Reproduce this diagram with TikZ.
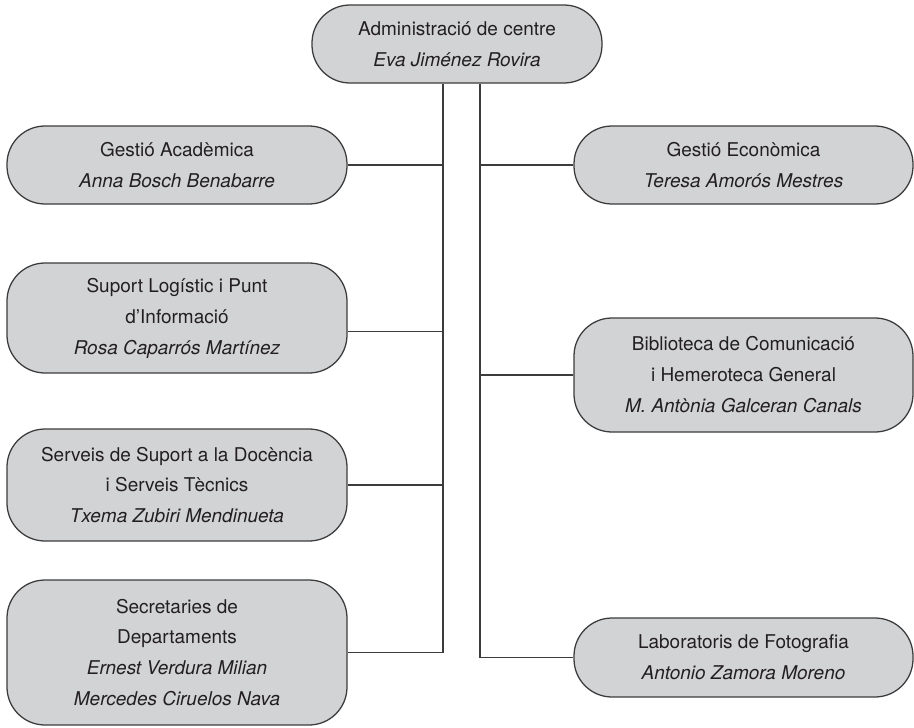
\documentclass[tikz,border=0pt]{standalone}
\usepackage{fontspec}
\setmainfont{TeX Gyre Heros}
\usepackage{tikz}
\usetikzlibrary{calc}
\definecolor{boxfill}{HTML}{D2D3D5}
\definecolor{boxline}{HTML}{3C3C3C}
\definecolor{boxtext}{HTML}{231F20}
\tikzstyle{unit} = [rectangle, draw=boxline, fill=boxfill, text=boxtext, line width=0.9pt, text centered, align=center, rounded corners = 0.95cm, inner sep=2pt, font=\fontsize{13.5pt}{22pt}\selectfont]
\tikzstyle{connector} = [draw=boxline, line width=0.9pt]

\begin{document}
\begin{tikzpicture}
            \useasboundingbox (0,0) rectangle (22.85,-18.175);
            \node (admin) [unit, minimum width=7.25cm, minimum height=1.95cm] at (11.425,-1.1) {Administració de centre\\{\itshape Eva Jiménez Rovira}};
            \node (gacad) [unit, minimum width=8.5cm, minimum height=1.95cm] at (4.425,-4.125) {Gestió Acadèmica\\{\itshape Anna Bosch Benabarre}};
            \node (gecon) [unit, minimum width=8.475cm, minimum height=1.95cm] at (18.5875,-4.125) {Gestió Econòmica\\{\itshape Teresa Amorós Mestres}};
            \node (suport) [unit, minimum width=8.5cm, minimum height=2.75cm] at (4.425,-7.95) {Suport Logístic i Punt\\d’Informació\\{\itshape Rosa Caparrós Martínez}};
            \node (biblio) [unit, minimum width=8.475cm, minimum height=2.85cm] at (18.5875,-9.375) {Biblioteca de Comunicació\\i Hemeroteca General\\{\itshape M. Antònia Galceran Canals}};
            \node (serveis) [unit, minimum width=8.5cm, minimum height=2.8cm] at (4.425,-12.125) {Serveis de Suport a la Docència\\i Serveis Tècnics\\{\itshape Txema Zubiri Mendinueta}};
            \node (secret) [unit, minimum width=8.5cm, minimum height=3.625cm] at (4.425,-16.3125) {Secretaries de\\Departaments\\{\itshape Ernest Verdura Milian}\\{\itshape Mercedes Ciruelos Nava}};
            \node (labfoto) [unit, minimum width=8.475cm, minimum height=1.975cm] at (18.5875,-16.4375) {Laboratoris de Fotografia\\{\itshape Antonio Zamora Moreno}};
            \coordinate (lbus) at (11.075,0);
            \coordinate (rbus) at (12.0,0);
            \draw [connector] (admin.south -| lbus) |- (secret.east);
            \draw [connector] (admin.south -| rbus) |- (labfoto.west);
            \draw [connector] (gacad.east) -- (gacad.east -| lbus);
            \draw [connector] ($(suport.east)+(0,-0.33)$) -- ($(suport.east -| lbus)+(0,-0.33)$);
            \draw [connector] (serveis.east) -- (serveis.east -| lbus);
            \draw [connector] (gecon.west) -- (gecon.west -| rbus);
            \draw [connector] (biblio.west) -- (biblio.west -| rbus);
        \end{tikzpicture}
\end{document}
